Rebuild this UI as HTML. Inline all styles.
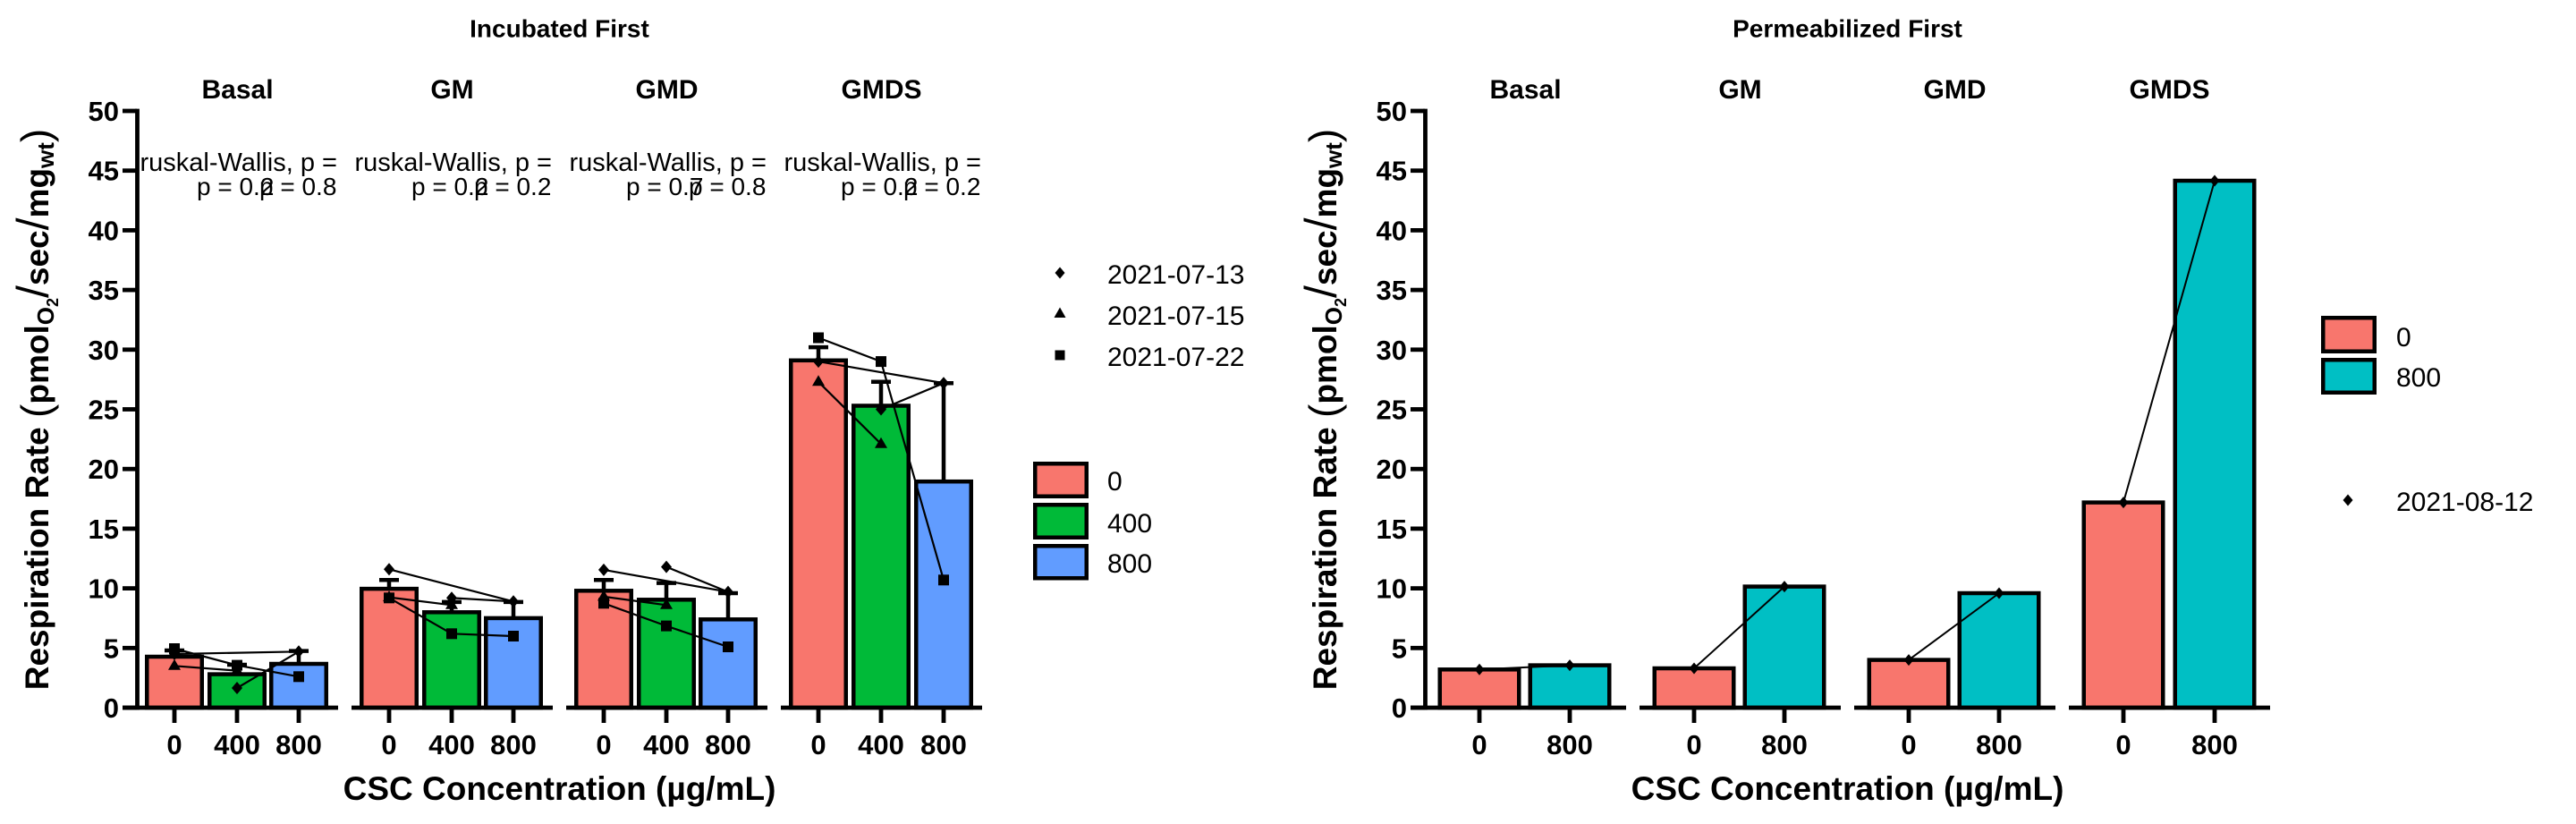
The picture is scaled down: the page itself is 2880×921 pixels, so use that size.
<!DOCTYPE html>
<html><head><meta charset="utf-8"><style>
html,body{margin:0;padding:0;background:#fff;}
svg{display:block;font-family:"Liberation Sans",Arial,sans-serif;}
</style></head><body>
<svg width="2880" height="921" viewBox="0 0 2880 921" xmlns="http://www.w3.org/2000/svg">
<defs>
<clipPath id="c1"><rect x="156" y="140" width="223" height="100"/></clipPath>
<clipPath id="c2"><rect x="396" y="140" width="223" height="100"/></clipPath>
<clipPath id="c3"><rect x="636" y="140" width="223" height="100"/></clipPath>
<clipPath id="c4"><rect x="876" y="140" width="223" height="100"/></clipPath>
</defs>
<rect width="2880" height="921" fill="#fff"/>

<!-- ================= LEFT CHART ================= -->
<text x="625.5" y="41.5" font-size="28" font-weight="bold" text-anchor="middle">Incubated First</text>
<g font-size="30" font-weight="bold" text-anchor="middle">
<text x="265.5" y="110">Basal</text>
<text x="505.5" y="110">GM</text>
<text x="745.5" y="110">GMD</text>
<text x="985.5" y="110">GMDS</text>
</g>

<!-- p-value texts -->
<g font-size="29">
<text x="377" y="191" text-anchor="end" clip-path="url(#c1)">Kruskal-Wallis, p =</text>
<text x="617" y="191" text-anchor="end" clip-path="url(#c2)">Kruskal-Wallis, p =</text>
<text x="857" y="191" text-anchor="end" clip-path="url(#c3)">Kruskal-Wallis, p =</text>
<text x="1097" y="191" text-anchor="end" clip-path="url(#c4)">Kruskal-Wallis, p =</text>
</g>
<g font-size="28">
<text x="220" y="218">p = 0.2</text><text x="290" y="218">p = 0.8</text>
<text x="460" y="218">p = 0.2</text><text x="530" y="218">p = 0.2</text>
<text x="700" y="218">p = 0.7</text><text x="770" y="218">p = 0.8</text>
<text x="940" y="218">p = 0.2</text><text x="1010" y="218">p = 0.2</text>
</g>

<!-- y axis -->
<text transform="translate(54,457.5) rotate(-90)" text-anchor="middle" font-size="37" font-weight="bold">Respiration Rate <tspan font-weight="normal" font-size="46" dy="2">(</tspan><tspan dy="-2">pmol</tspan><tspan font-size="26" dy="6">O</tspan><tspan font-size="18" dy="5">2</tspan><tspan dy="-11" font-weight="normal" font-size="50">/</tspan>sec<tspan font-weight="normal" font-size="50">/</tspan>mg<tspan font-size="26" dy="6">wt</tspan><tspan dy="-4" font-weight="normal" font-size="46">)</tspan></text>
<g stroke="#000" stroke-width="4.8">
<line x1="153.5" y1="121.6" x2="153.5" y2="793.4"/>
<line x1="137" y1="791" x2="153" y2="791"/>
<line x1="137" y1="724.3" x2="153" y2="724.3"/>
<line x1="137" y1="657.6" x2="153" y2="657.6"/>
<line x1="137" y1="590.9" x2="153" y2="590.9"/>
<line x1="137" y1="524.2" x2="153" y2="524.2"/>
<line x1="137" y1="457.5" x2="153" y2="457.5"/>
<line x1="137" y1="390.8" x2="153" y2="390.8"/>
<line x1="137" y1="324.1" x2="153" y2="324.1"/>
<line x1="137" y1="257.4" x2="153" y2="257.4"/>
<line x1="137" y1="190.7" x2="153" y2="190.7"/>
<line x1="137" y1="124" x2="153" y2="124"/>
</g>
<g font-size="31" font-weight="bold" text-anchor="end">
<text x="133" y="802">0</text>
<text x="133" y="735.3">5</text>
<text x="133" y="668.6">10</text>
<text x="133" y="601.9">15</text>
<text x="133" y="535.2">20</text>
<text x="133" y="468.5">25</text>
<text x="133" y="401.8">30</text>
<text x="133" y="335.1">35</text>
<text x="133" y="268.4">40</text>
<text x="133" y="201.7">45</text>
<text x="133" y="135">50</text>
</g>

<!-- bars -->
<g stroke="#000" stroke-width="4.5">
<rect x="164.25" y="734" width="61.5" height="57" fill="#F8766D"/>
<rect x="234.25" y="753.6" width="61.5" height="37.4" fill="#00BA38"/>
<rect x="303.25" y="742" width="61.5" height="49" fill="#619CFF"/>
<rect x="404.25" y="658.1" width="61.5" height="132.9" fill="#F8766D"/>
<rect x="474.25" y="684.3" width="61.5" height="106.7" fill="#00BA38"/>
<rect x="543.25" y="690.9" width="61.5" height="100.1" fill="#619CFF"/>
<rect x="644.25" y="660.3" width="61.5" height="130.7" fill="#F8766D"/>
<rect x="714.25" y="670.3" width="61.5" height="120.7" fill="#00BA38"/>
<rect x="783.25" y="692.3" width="61.5" height="98.7" fill="#619CFF"/>
<rect x="884.25" y="402.8" width="61.5" height="388.2" fill="#F8766D"/>
<rect x="954.25" y="453.5" width="61.5" height="337.5" fill="#00BA38"/>
<rect x="1024.25" y="538.2" width="61.5" height="252.8" fill="#619CFF"/>
</g>

<!-- error bars -->
<g stroke="#000" stroke-width="4.5" fill="none">
<path d="M195 734V727M184 727H206"/>
<path d="M265 753.6V743M254 743H276"/>
<path d="M334 742V727.6M323 727.6H345"/>
<path d="M435 658.1V648.3M424 648.3H446"/>
<path d="M505 684.3V672.9M494 672.9H516"/>
<path d="M574 690.9V672.9M563 672.9H585"/>
<path d="M675 660.3V648.3M664 648.3H686"/>
<path d="M745 670.3V651.6M734 651.6H756"/>
<path d="M814 692.3V663M803 663H825"/>
<path d="M915 402.8V388.1M904 388.1H926"/>
<path d="M985 453.5V426.8M974 426.8H996"/>
<path d="M1055 538.2V428.2M1044 428.2H1066"/>
</g>

<!-- bottom axes and x ticks -->
<g stroke="#000" stroke-width="4.8">
<line x1="137" y1="791" x2="378" y2="791"/>
<line x1="393" y1="791" x2="618" y2="791"/>
<line x1="633" y1="791" x2="858" y2="791"/>
<line x1="873" y1="791" x2="1098" y2="791"/>
<path d="M195 791V808M265 791V808M334 791V808M435 791V808M505 791V808M574 791V808M675 791V808M745 791V808M814 791V808M915 791V808M985 791V808M1055 791V808"/>
</g>
<g font-size="31" font-weight="bold" text-anchor="middle">
<text x="195" y="843">0</text><text x="265" y="843">400</text><text x="334" y="843">800</text>
<text x="435" y="843">0</text><text x="505" y="843">400</text><text x="574" y="843">800</text>
<text x="675" y="843">0</text><text x="745" y="843">400</text><text x="814" y="843">800</text>
<text x="915" y="843">0</text><text x="985" y="843">400</text><text x="1055" y="843">800</text>
</g>
<text x="625.5" y="894" font-size="37" font-weight="bold" text-anchor="middle">CSC Concentration (µg/mL)</text>

<!-- connecting lines -->
<g stroke="#000" stroke-width="2.2" fill="none">
<path d="M195 731L334 728.3M265 769L334 728.3M195 744.3L265 749.6M195 725L265 743.6L334 756.3"/>
<path d="M435 636.3L574 672.3M505 668.3L574 672.3M435 667.6L505 676.3M435 668.3L505 708.3L574 711"/>
<path d="M675 636.9L814 661.6M745 633.6L814 661.6M675 666.9L745 676.3M675 674.3L745 699.6L814 723"/>
<path d="M915 404.1L1055 428.2M985 457.5L1055 428.2M915 426.8L985 496.2M915 377.5L985 404.1L1055 648.3"/>
</g>

<!-- points -->
<g fill="#000">
<path d="M195 724l6 7l-6 7l-6-7z"/>
<path d="M265 762l6 7l-6 7l-6-7z"/>
<path d="M334 721.3l6 7l-6 7l-6-7z"/>
<path d="M435 629.3l6 7l-6 7l-6-7z"/>
<path d="M505 661.3l6 7l-6 7l-6-7z"/>
<path d="M574 665.3l6 7l-6 7l-6-7z"/>
<path d="M675 629.9l6 7l-6 7l-6-7z"/>
<path d="M745 626.6l6 7l-6 7l-6-7z"/>
<path d="M814 654.6l6 7l-6 7l-6-7z"/>
<path d="M915 397.1l6 7l-6 7l-6-7z"/>
<path d="M985 450.5l6 7l-6 7l-6-7z"/>
<path d="M1055 421.2l6 7l-6 7l-6-7z"/>
<path d="M195 736.8l7 12h-14z"/>
<path d="M265 742.1l7 12h-14z"/>
<path d="M435 660.1l7 12h-14z"/>
<path d="M505 668.8l7 12h-14z"/>
<path d="M675 659.4l7 12h-14z"/>
<path d="M745 668.8l7 12h-14z"/>
<path d="M915 419.3l7 12h-14z"/>
<path d="M985 488.7l7 12h-14z"/>
<rect x="189" y="719" width="12" height="12"/>
<rect x="259" y="737.6" width="12" height="12"/>
<rect x="328" y="750.3" width="12" height="12"/>
<rect x="429" y="662.3" width="12" height="12"/>
<rect x="499" y="702.3" width="12" height="12"/>
<rect x="568" y="705" width="12" height="12"/>
<rect x="669" y="668.3" width="12" height="12"/>
<rect x="739" y="693.6" width="12" height="12"/>
<rect x="808" y="717" width="12" height="12"/>
<rect x="909" y="371.5" width="12" height="12"/>
<rect x="979" y="398.1" width="12" height="12"/>
<rect x="1049" y="642.3" width="12" height="12"/>
</g>

<!-- left legends -->
<g fill="#000">
<path d="M1185 298.5l5.5 6.5l-5.5 6.5l-5.5-6.5z"/>
<path d="M1185 343.5l6.5 11.5h-13z"/>
<rect x="1179.5" y="391.5" width="11" height="11"/>
</g>
<g font-size="30">
<text x="1238" y="317">2021-07-13</text>
<text x="1238" y="363">2021-07-15</text>
<text x="1238" y="409">2021-07-22</text>
</g>
<g stroke="#000" stroke-width="4.5">
<rect x="1157.25" y="518.25" width="57.5" height="36.5" fill="#F8766D"/>
<rect x="1157.25" y="564.25" width="57.5" height="36.5" fill="#00BA38"/>
<rect x="1157.25" y="610.25" width="57.5" height="36" fill="#619CFF"/>
</g>
<g font-size="30">
<text x="1238" y="548">0</text>
<text x="1238" y="595">400</text>
<text x="1238" y="640">800</text>
</g>

<!-- ================= RIGHT CHART ================= -->
<text x="2065.5" y="41.5" font-size="28" font-weight="bold" text-anchor="middle">Permeabilized First</text>
<g font-size="30" font-weight="bold" text-anchor="middle">
<text x="1705.5" y="110">Basal</text>
<text x="1945.5" y="110">GM</text>
<text x="2185.5" y="110">GMD</text>
<text x="2425.5" y="110">GMDS</text>
</g>

<text transform="translate(1494,457.5) rotate(-90)" text-anchor="middle" font-size="37" font-weight="bold">Respiration Rate <tspan font-weight="normal" font-size="46" dy="2">(</tspan><tspan dy="-2">pmol</tspan><tspan font-size="26" dy="6">O</tspan><tspan font-size="18" dy="5">2</tspan><tspan dy="-11" font-weight="normal" font-size="50">/</tspan>sec<tspan font-weight="normal" font-size="50">/</tspan>mg<tspan font-size="26" dy="6">wt</tspan><tspan dy="-4" font-weight="normal" font-size="46">)</tspan></text>
<g stroke="#000" stroke-width="4.8">
<line x1="1593.5" y1="121.6" x2="1593.5" y2="793.4"/>
<line x1="1577" y1="791" x2="1593" y2="791"/>
<line x1="1577" y1="724.3" x2="1593" y2="724.3"/>
<line x1="1577" y1="657.6" x2="1593" y2="657.6"/>
<line x1="1577" y1="590.9" x2="1593" y2="590.9"/>
<line x1="1577" y1="524.2" x2="1593" y2="524.2"/>
<line x1="1577" y1="457.5" x2="1593" y2="457.5"/>
<line x1="1577" y1="390.8" x2="1593" y2="390.8"/>
<line x1="1577" y1="324.1" x2="1593" y2="324.1"/>
<line x1="1577" y1="257.4" x2="1593" y2="257.4"/>
<line x1="1577" y1="190.7" x2="1593" y2="190.7"/>
<line x1="1577" y1="124" x2="1593" y2="124"/>
</g>
<g font-size="31" font-weight="bold" text-anchor="end">
<text x="1573" y="802">0</text>
<text x="1573" y="735.3">5</text>
<text x="1573" y="668.6">10</text>
<text x="1573" y="601.9">15</text>
<text x="1573" y="535.2">20</text>
<text x="1573" y="468.5">25</text>
<text x="1573" y="401.8">30</text>
<text x="1573" y="335.1">35</text>
<text x="1573" y="268.4">40</text>
<text x="1573" y="201.7">45</text>
<text x="1573" y="135">50</text>
</g>

<g stroke="#000" stroke-width="4.5">
<rect x="1609.75" y="748.3" width="88.5" height="42.7" fill="#F8766D"/>
<rect x="1710.75" y="743.6" width="88.5" height="47.4" fill="#00BFC4"/>
<rect x="1849.75" y="747" width="88.5" height="44" fill="#F8766D"/>
<rect x="1950.75" y="655.6" width="88.5" height="135.4" fill="#00BFC4"/>
<rect x="2089.75" y="737.6" width="88.5" height="53.4" fill="#F8766D"/>
<rect x="2190.75" y="663" width="88.5" height="128" fill="#00BFC4"/>
<rect x="2329.75" y="561.6" width="88.5" height="229.4" fill="#F8766D"/>
<rect x="2431.75" y="202" width="88.5" height="589" fill="#00BFC4"/>
</g>

<g stroke="#000" stroke-width="4.8">
<line x1="1577" y1="791" x2="1818" y2="791"/>
<line x1="1833" y1="791" x2="2058" y2="791"/>
<line x1="2073" y1="791" x2="2298" y2="791"/>
<line x1="2313" y1="791" x2="2538" y2="791"/>
<path d="M1654 791V808M1755 791V808M1894 791V808M1995 791V808M2134 791V808M2235 791V808M2374 791V808M2476 791V808"/>
</g>
<g font-size="31" font-weight="bold" text-anchor="middle">
<text x="1654" y="843">0</text><text x="1755" y="843">800</text>
<text x="1894" y="843">0</text><text x="1995" y="843">800</text>
<text x="2134" y="843">0</text><text x="2235" y="843">800</text>
<text x="2374" y="843">0</text><text x="2476" y="843">800</text>
</g>
<text x="2065.5" y="894" font-size="37" font-weight="bold" text-anchor="middle">CSC Concentration (µg/mL)</text>

<g stroke="#000" stroke-width="2" fill="none">
<path d="M1654 748.3L1755 743.6M1894 747L1995 655.6M2134 737.6L2235 663M2374 561.6L2476 202"/>
</g>
<g fill="#000">
<path d="M1654 741.8l5.5 6.5l-5.5 6.5l-5.5-6.5z"/>
<path d="M1755 737.1l5.5 6.5l-5.5 6.5l-5.5-6.5z"/>
<path d="M1894 740.5l5.5 6.5l-5.5 6.5l-5.5-6.5z"/>
<path d="M1995 649.1l5.5 6.5l-5.5 6.5l-5.5-6.5z"/>
<path d="M2134 731.1l5.5 6.5l-5.5 6.5l-5.5-6.5z"/>
<path d="M2235 656.5l5.5 6.5l-5.5 6.5l-5.5-6.5z"/>
<path d="M2374 555.1l5.5 6.5l-5.5 6.5l-5.5-6.5z"/>
<path d="M2476 195.5l5.5 6.5l-5.5 6.5l-5.5-6.5z"/>
</g>

<!-- right legends -->
<g stroke="#000" stroke-width="4.5">
<rect x="2597.25" y="355.25" width="57.5" height="37.5" fill="#F8766D"/>
<rect x="2597.25" y="402.25" width="57.5" height="36.5" fill="#00BFC4"/>
</g>
<g font-size="30">
<text x="2679" y="387">0</text>
<text x="2679" y="432">800</text>
<text x="2679" y="571">2021-08-12</text>
</g>
<path d="M2625 552.5l5.5 6.5l-5.5 6.5l-5.5-6.5z" fill="#000"/>
</svg>
</body></html>
